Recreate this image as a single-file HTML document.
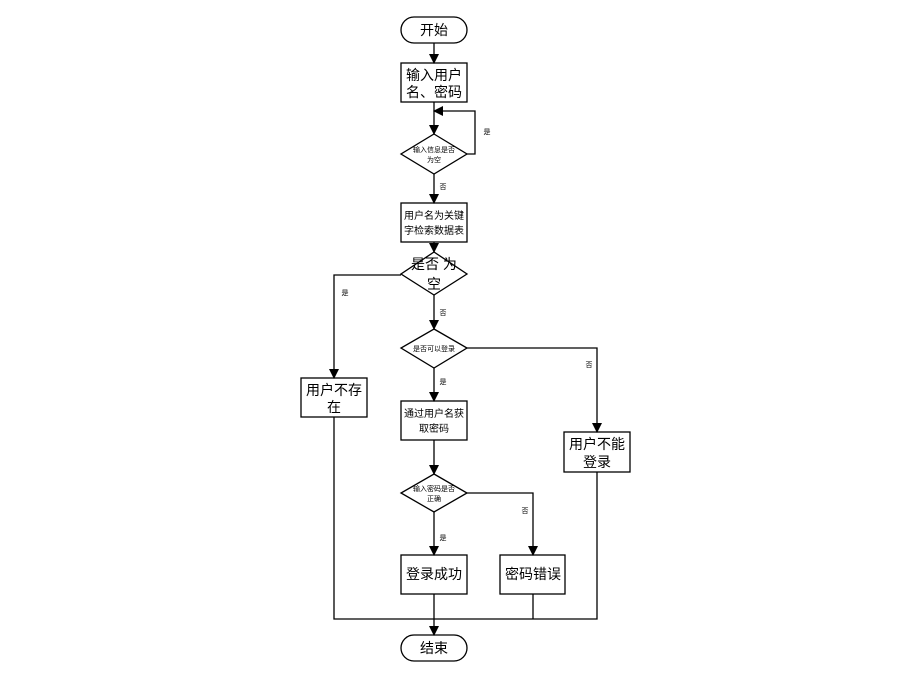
<!DOCTYPE html>
<html><head><meta charset="utf-8"><style>
body{margin:0;background:#fff}
svg text{font-family:"Liberation Sans","Noto Sans CJK SC",sans-serif;fill:#000;text-anchor:middle}
</style></head><body>
<svg width="900" height="670" viewBox="0 0 900 670" xmlns="http://www.w3.org/2000/svg">
<defs><marker id="a" markerWidth="10" markerHeight="10" refX="9" refY="5" orient="auto" markerUnits="userSpaceOnUse"><path d="M0,0 L10,5 L0,10 z" fill="#000"/></marker></defs>
<g fill="#fff" stroke="#000" stroke-width="1.3">
<rect x="401" y="17" width="66" height="26" rx="13"/>
<rect x="401" y="63" width="66" height="39"/>
<polygon points="434,134 467,154 434,174 401,154"/>
<rect x="401" y="203" width="66" height="39"/>
<polygon points="434,252 467,274 434,295 401,274"/>
<polygon points="434,329 467,348 434,368 401,348"/>
<rect x="301" y="378" width="66" height="39"/>
<rect x="401" y="401" width="66" height="39"/>
<rect x="564" y="432" width="66" height="40"/>
<polygon points="434,474 467,493 434,512 401,493"/>
<rect x="401" y="555" width="66" height="39"/>
<rect x="500" y="555" width="65" height="39"/>
<rect x="401" y="635" width="66" height="26" rx="13"/>
</g>
<g fill="none" stroke="#000" stroke-width="1.3">
<path d="M434,43 V63" marker-end="url(#a)"/>
<path d="M434,102 V134" marker-end="url(#a)"/>
<path d="M467,154 H475 V111 H434" marker-end="url(#a)"/>
<path d="M434,174 V203" marker-end="url(#a)"/>
<path d="M434,242 V252" marker-end="url(#a)"/>
<path d="M401,275 H334 V378" marker-end="url(#a)"/>
<path d="M434,295 V329" marker-end="url(#a)"/>
<path d="M467,348 H597 V432" marker-end="url(#a)"/>
<path d="M434,368 V401" marker-end="url(#a)"/>
<path d="M434,440 V474" marker-end="url(#a)"/>
<path d="M467,493 H533 V555" marker-end="url(#a)"/>
<path d="M434,512 V555" marker-end="url(#a)"/>
<path d="M334,417 V619 H597 V472"/>
<path d="M533,594 V619"/>
<path d="M434,594 V635" marker-end="url(#a)"/>
</g>
<g font-size="14">
<text x="434" y="35">开始</text>
<text x="434" y="80">输入用户</text><text x="434" y="97">名、密码</text>
<text x="434" y="269">是否 为</text><text x="434" y="289">空</text>
<text x="334" y="395">用户不存</text><text x="334" y="412">在</text>
<text x="597" y="449">用户不能</text><text x="597" y="467">登录</text>
<text x="434" y="579">登录成功</text>
<text x="533" y="579">密码错误</text>
<text x="434" y="653">结束</text>
</g>
<g font-size="10">
<text x="434" y="219">用户名为关键</text><text x="434" y="234">字检索数据表</text>
<text x="434" y="417">通过用户名获</text><text x="434" y="432">取密码</text>
</g>
<g font-size="7">
<text x="434" y="152">输入信息是否</text><text x="434" y="162">为空</text>
<text x="434" y="351">是否可以登录</text>
<text x="434" y="491">输入密码是否</text><text x="434" y="501">正确</text>
<text x="487" y="134">是</text>
<text x="443" y="189">否</text>
<text x="345" y="295">是</text>
<text x="443" y="315">否</text>
<text x="589" y="367">否</text>
<text x="443" y="384">是</text>
<text x="525" y="513">否</text>
<text x="443" y="540">是</text>
</g>
</svg>
</body></html>
